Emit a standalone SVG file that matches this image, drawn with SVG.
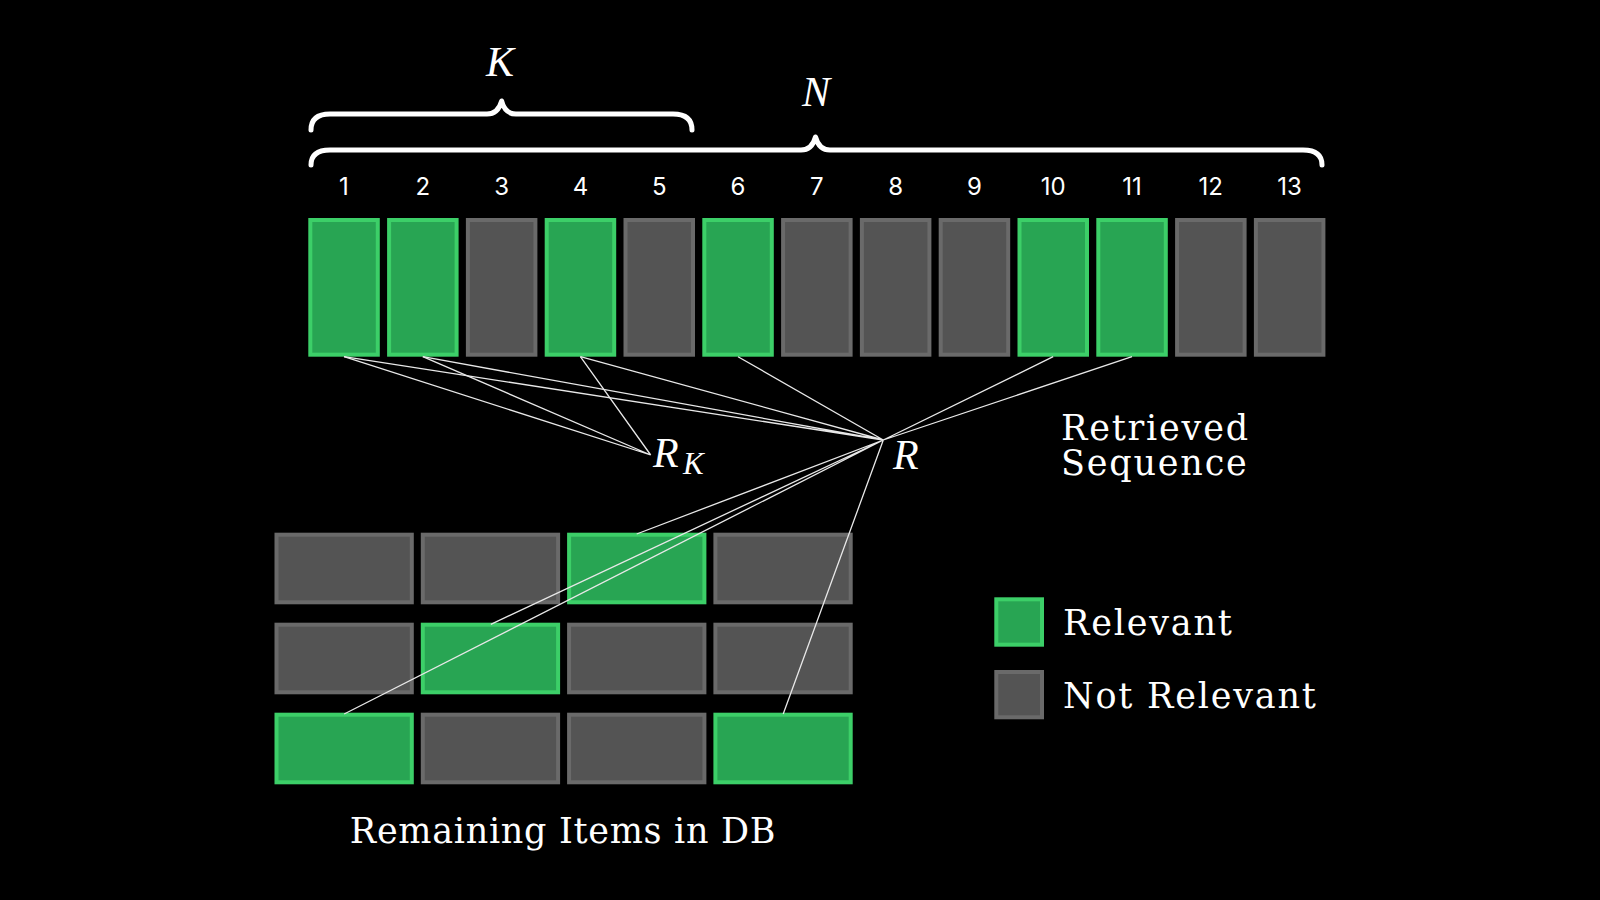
<svg xmlns="http://www.w3.org/2000/svg" width="1600" height="900" viewBox="0 0 1600 900">
<style>
.rel{fill:#28a553;stroke:#3ccf68;stroke-width:4}
.nr{fill:#545454;stroke:#6a6a6a;stroke-width:4}
.num{font-family:Inter,"Noto Sans",sans-serif;font-size:24px;fill:#fff;text-anchor:middle}
.lbl{font-family:"DejaVu Serif",serif;font-size:35px;fill:#fff;letter-spacing:1.8px}
.math{font-family:"Liberation Serif",serif;font-style:italic;fill:#fff}
.brace{fill:none;stroke:#fff;stroke-width:5;stroke-linejoin:round;stroke-linecap:round}
.ln{stroke:#e8e8e8;stroke-width:1.3;fill:none}
</style>
<rect width="1600" height="900" fill="#000"/>
<g id="braces">
<path class="brace" d="M311 130 Q311 114 330 114 L487 114 Q498 114 501.7 101 Q505 114 516 114 L673 114 Q692 114 692 130"/>
<text class="math" x="500" y="76" font-size="42" text-anchor="middle">K</text>
<path class="brace" d="M311 165 Q311 150 330 150 L801 150 Q812 150 815.5 137 Q819 150 830 150 L1303 150 Q1322 150 1322 165"/>
<text class="math" x="816" y="106" font-size="42" text-anchor="middle">N</text>
</g>
<g id="sequence">
<g id="s1"><rect class="rel" x="310.3" y="220" width="67.5" height="134.7"/><text class="num" x="344" y="195">1</text></g>
<g id="s2"><rect class="rel" x="389.1" y="220" width="67.5" height="134.7"/><text class="num" x="422.8" y="195">2</text></g>
<g id="s3"><rect class="nr" x="467.9" y="220" width="67.5" height="134.7"/><text class="num" x="501.6" y="195">3</text></g>
<g id="s4"><rect class="rel" x="546.7" y="220" width="67.5" height="134.7"/><text class="num" x="580.4" y="195">4</text></g>
<g id="s5"><rect class="nr" x="625.5" y="220" width="67.5" height="134.7"/><text class="num" x="659.2" y="195">5</text></g>
<g id="s6"><rect class="rel" x="704.3" y="220" width="67.5" height="134.7"/><text class="num" x="738" y="195">6</text></g>
<g id="s7"><rect class="nr" x="783.1" y="220" width="67.5" height="134.7"/><text class="num" x="816.8" y="195">7</text></g>
<g id="s8"><rect class="nr" x="861.9" y="220" width="67.5" height="134.7"/><text class="num" x="895.6" y="195">8</text></g>
<g id="s9"><rect class="nr" x="940.7" y="220" width="67.5" height="134.7"/><text class="num" x="974.4" y="195">9</text></g>
<g id="s10"><rect class="rel" x="1019.5" y="220" width="67.5" height="134.7"/><text class="num" x="1053.2" y="195">10</text></g>
<g id="s11"><rect class="rel" x="1098.3" y="220" width="67.5" height="134.7"/><text class="num" x="1132" y="195">11</text></g>
<g id="s12"><rect class="nr" x="1177.1" y="220" width="67.5" height="134.7"/><text class="num" x="1210.8" y="195">12</text></g>
<g id="s13"><rect class="nr" x="1255.9" y="220" width="67.5" height="134.7"/><text class="num" x="1289.6" y="195">13</text></g>
</g>
<g id="db">
<rect class="nr" x="276.5" y="534.7" width="135.3" height="67.6"/>
<rect class="nr" x="422.8" y="534.7" width="135.3" height="67.6"/>
<rect class="rel" x="569.1" y="534.7" width="135.3" height="67.6"/>
<rect class="nr" x="715.4" y="534.7" width="135.3" height="67.6"/>
<rect class="nr" x="276.5" y="624.7" width="135.3" height="67.6"/>
<rect class="rel" x="422.8" y="624.7" width="135.3" height="67.6"/>
<rect class="nr" x="569.1" y="624.7" width="135.3" height="67.6"/>
<rect class="nr" x="715.4" y="624.7" width="135.3" height="67.6"/>
<rect class="rel" x="276.5" y="714.7" width="135.3" height="67.6"/>
<rect class="nr" x="422.8" y="714.7" width="135.3" height="67.6"/>
<rect class="nr" x="569.1" y="714.7" width="135.3" height="67.6"/>
<rect class="rel" x="715.4" y="714.7" width="135.3" height="67.6"/>
<text class="lbl" x="563" y="842.7" text-anchor="middle" style="letter-spacing:0.7px">Remaining Items in DB</text>
</g>
<g id="connectors">
<path class="ln" d="M344 356.7 L650.7 455 M422.8 356.7 L650.7 455 M580.4 356.7 L650.7 455"/>
<path class="ln" d="M344 356.7 L883.3 440 M422.8 356.7 L883.3 440 M580.4 356.7 L883.3 440 M738 356.7 L883.3 440 M1053.2 356.7 L883.3 440 M1132 356.7 L883.3 440"/>
<path class="ln" d="M883.3 440 L636.7 534 M883.3 440 L490.8 624.3 M883.3 440 L344.2 714 M883.3 440 L783.2 714"/>
</g>
<g id="RK"><text class="math" x="653" y="467" font-size="42">R</text><text class="math" x="683" y="474" font-size="31">K</text></g>
<g id="R"><text class="math" x="893" y="469" font-size="42">R</text></g>
<g id="retrieved"><text class="lbl" x="1061" y="440">Retrieved</text><text class="lbl" x="1061" y="475">Sequence</text></g>
<g id="legend">
<rect class="rel" x="996.3" y="599.3" width="45.7" height="45.4"/>
<text class="lbl" x="1063" y="635">Relevant</text>
<rect class="nr" x="996.3" y="672" width="45.7" height="45.3"/>
<text class="lbl" x="1063" y="708">Not Relevant</text>
</g>
</svg>
